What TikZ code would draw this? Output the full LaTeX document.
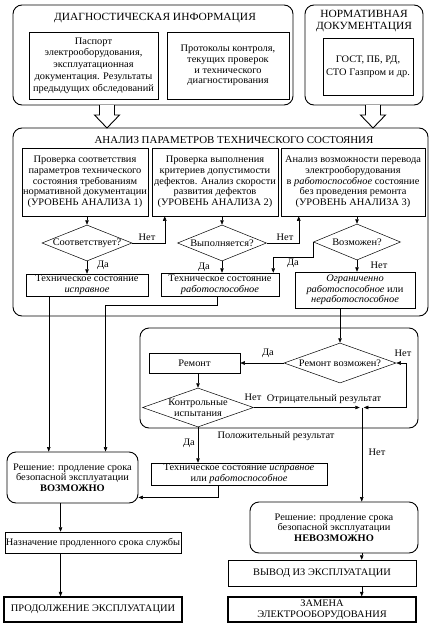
\documentclass[tikz,border=0pt]{standalone}
\usepackage{fontspec}
\setmainfont{Liberation Serif}[FakeStretch=1.04]
\usetikzlibrary{calc,shapes.geometric,arrows.meta}
\begin{document}
\begin{tikzpicture}[x=1pt,y=-1pt,
  every node/.style={font=\fontsize{10}{10.7}\selectfont, inner sep=0.5pt, align=center},
  ttl/.style={font=\fontsize{11}{12}\selectfont},
  sz/.style 2 args={minimum width=#1, minimum height=#2},
  box/.style={draw, line width=0.5pt, rectangle},
  rbox/.style={draw, line width=0.9pt, rounded corners=9pt},
  fbox/.style={draw, line width=1.2pt, rectangle},
  dia/.style={draw, diamond, line width=0.5pt, inner sep=0pt},
  lab/.style={inner sep=0pt},
  arr/.style={-{Triangle[length=4.5pt,width=3.5pt]}, line width=0.5pt},
  darr/.style={{Triangle[length=4.5pt,width=3.5pt]}-{Triangle[length=4.5pt,width=3.5pt]}, line width=0.5pt},
  hollow/.style={draw, line width=0.9pt, fill=white},
]
\useasboundingbox (0,0) rectangle (434,624);

% ---------- top ----------
\node[rbox, sz={280}{100}] (diag) at (153,55) {};
\node[ttl] (diagt) at (155,18) {ДИАГНОСТИЧЕСКАЯ ИНФОРМАЦИЯ};
\node[box, sz={129}{67}, font=\fontsize{10}{11.8}\selectfont] (p1) at (93.5,65.5)
  {Паспорт\\электрооборудования,\\эксплуатационная\\документация. Результаты\\предыдущих обследований};
\node[box, sz={122}{67}] (p2) at (228,65.5)
  {Протоколы контроля,\\текущих проверок\\и технического\\диагностирования};

\node[rbox, sz={118}{100}] (norm) at (364,55) {};
\node[ttl] (normt) at (364,21) {НОРМАТИВНАЯ\\ДОКУМЕНТАЦИЯ};
\node[box, sz={90}{57}, font=\fontsize{10}{13}\selectfont] (gost) at (368,66.5) {ГОСТ, ПБ, РД,\\СТО Газпром и др.};

% hollow arrows
\draw[hollow] (99.5,105) -- (99.5,115) -- (94.5,115) -- (107,128) -- (119.5,115) -- (114.5,115) -- (114.5,105);
\draw[hollow] (365.5,105) -- (365.5,115) -- (360.5,115) -- (373,128) -- (385.5,115) -- (380.5,115) -- (380.5,105);

% ---------- analysis ----------
\node[rbox, sz={415}{188}] (an) at (220.5,222) {};
\node[font=\fontsize{10.5}{12}\selectfont] (ant) at (234,140) {АНАЛИЗ ПАРАМЕТРОВ ТЕХНИЧЕСКОГО СОСТОЯНИЯ};
\node[box, sz={126}{68}] (A) at (85,182)
  {Проверка соответствия\\параметров технического\\состояния требованиям\\нормативной документации\\(УРОВЕНЬ АНАЛИЗА 1)};
\node[box, sz={126}{68}] (B) at (215,182)
  {Проверка выполнения\\критериев допустимости\\дефектов. Анализ скорости\\развития дефектов\\(УРОВЕНЬ АНАЛИЗА 2)};
\node[box, sz={144}{68}] (C) at (353,182)
  {Анализ возможности перевода\\электрооборудования\\в \textit{работоспособное} состояние\\без проведения ремонта\\(УРОВЕНЬ АНАЛИЗА 3)};

\node[dia, sz={90}{36}] (d1) at (87,243) {};
\node (d1t) at (87,243) {Соответствует?};
\node[dia, sz={89}{36}] (d2) at (222,243) {};
\node (d2t) at (222,243) {Выполняется?};
\node[dia, sz={87}{36}] (d3) at (357,242) {};
\node (d3t) at (357,242) {Возможен?};

\node[box, sz={122}{22}] (D1) at (87,285) {Техническое состояние\\\textit{исправное}};
\node[box, sz={118}{23}] (D2) at (220,284.5) {Техническое состояние\\\textit{работоспособное}};
\node[box, sz={120}{36}] (D3) at (355,290) {\textit{Ограниченно}\\\textit{работоспособное} или\\\textit{неработоспособное}};

\draw[arr] (A.south -| d1.north) -- (d1.north);
\draw[arr] (d2.north |- B.south) -- (d2.north);
\draw[arr] (d3.north |- C.south) -- (d3.north);
\draw[arr] (d1.east) -| ($(B.south west)+(13,0)$);
\draw[arr] (d2.east) -| ($(C.south west)+(18,0)$);
\draw[arr] (d1.south) -- (d1.south |- D1.north);
\draw[arr] (d2.south) -- (d2.south |- D2.north);
\draw[arr] (d3.south) -- (d3.south |- D3.north);
\draw[arr] (d3.west) -- ++(0,15) -| ($(D2.north east)+(-6,0)$);

\node[lab] (n1) at (147,237) {Нет};
\node[lab] (n2) at (285,237) {Нет};
\node[lab] (y1) at (103,265) {Да};
\node[lab] (y2) at (204,267) {Да};
\node[lab] (y3) at (293,263) {Да};
\node[lab] (n3) at (379,265) {Нет};

% ---------- repair ----------
\node[rbox, sz={278}{100}] (rep) at (279,378) {};
\node[dia, sz={112}{40}] (rv) at (340,363) {};
\node (rvt) at (340,363) {Ремонт возможен?};
\node[box, sz={91}{20}] (rem) at (194.5,363) {Ремонт};
\node[dia, sz={111}{39}] (kt) at (198,407.5) {};
\node (ktt) at (198,407.5) {Контрольные\\испытания};
\coordinate (J) at ($(kt.east)+(108,0)$);

\draw[arr] (rv.north |- D3.south) -- (rv.north);
\draw[arr] (rv.west) -- (rv.west -| rem.east);
\draw[arr] (kt.north |- rem.south) -- (kt.north);
\draw[arr, shorten >=2pt] (kt.east) -- (J);
\draw[darr, shorten >=2pt] (rv.east) -- ++(10,0) |- (J);

\node[lab] (y4) at (268,353) {Да};
\node[lab] (n4) at (403,353) {Нет};
\node[lab] (n5) at (253,397) {Нет};
\node[lab] (neg) at (324,399) {Отрицательный результат};
\node[lab] (pos) at (276,436) {Положительный результат};
\node[lab] (y5) at (189,443) {Да};
\node[lab] (n6) at (377,452) {Нет};

% ---------- bottom ----------
\node[box, sz={176}{22}] (E) at (239,474) {Техническое состояние \textit{исправное}\\или \textit{работоспособное}};
\node[rbox, sz={131}{51}] (voz) at (72.5,477.5) {Решение: продление срока\\безопасной эксплуатации\\\textbf{ВОЗМОЖНО}};
\node[box, sz={176}{21}] (naz) at (93,542.5) {Назначение продленного срока службы};
\node[fbox, sz={178}{25}] (prod) at (93,609.5) {ПРОДОЛЖЕНИЕ ЭКСПЛУАТАЦИИ};
\node[rbox, sz={168}{51}] (nev) at (334,527.5) {Решение: продление срока\\безопасной эксплуатации\\\textbf{НЕВОЗМОЖНО}};
\node[box, sz={188}{26}] (vyv) at (322,573) {ВЫВОД ИЗ ЭКСПЛУАТАЦИИ};
\node[fbox, sz={188}{25}] (zam) at (322,609.5) {ЗАМЕНА\\ЭЛЕКТРООБОРУДОВАНИЯ};

\coordinate (c61) at ($(voz.south west)+(54,0)$);
\coordinate (c49) at ($(D1.south west)+(23,0)$);
\coordinate (c217) at ($(D2.south west)+(56,0)$);
\coordinate (c106) at ($(voz.north west)+(99,0)$);
\coordinate (c218) at ($(E.south west)+(67,0)$);
\coordinate (c497) at ($(voz.south east)+(0,-6)$);
\draw[arr] (kt.south) -- (kt.south |- E.north);
\draw[arr] (c49) -- (c49 |- voz.north);
\draw[arr] (c217) -- ++(0,9) -| (c106);
\draw[arr] (c218) |- (c497);
\draw[arr] (J) -- (J |- nev.north);
\draw[arr] (c61) -- (c61 |- naz.north);
\draw[arr] (c61 |- naz.south) -- (c61 |- prod.north);
\draw[arr] (J |- nev.south) -- (J |- vyv.north);
\draw[arr] (J |- vyv.south) -- (J |- zam.north);
\end{tikzpicture}
\end{document}
